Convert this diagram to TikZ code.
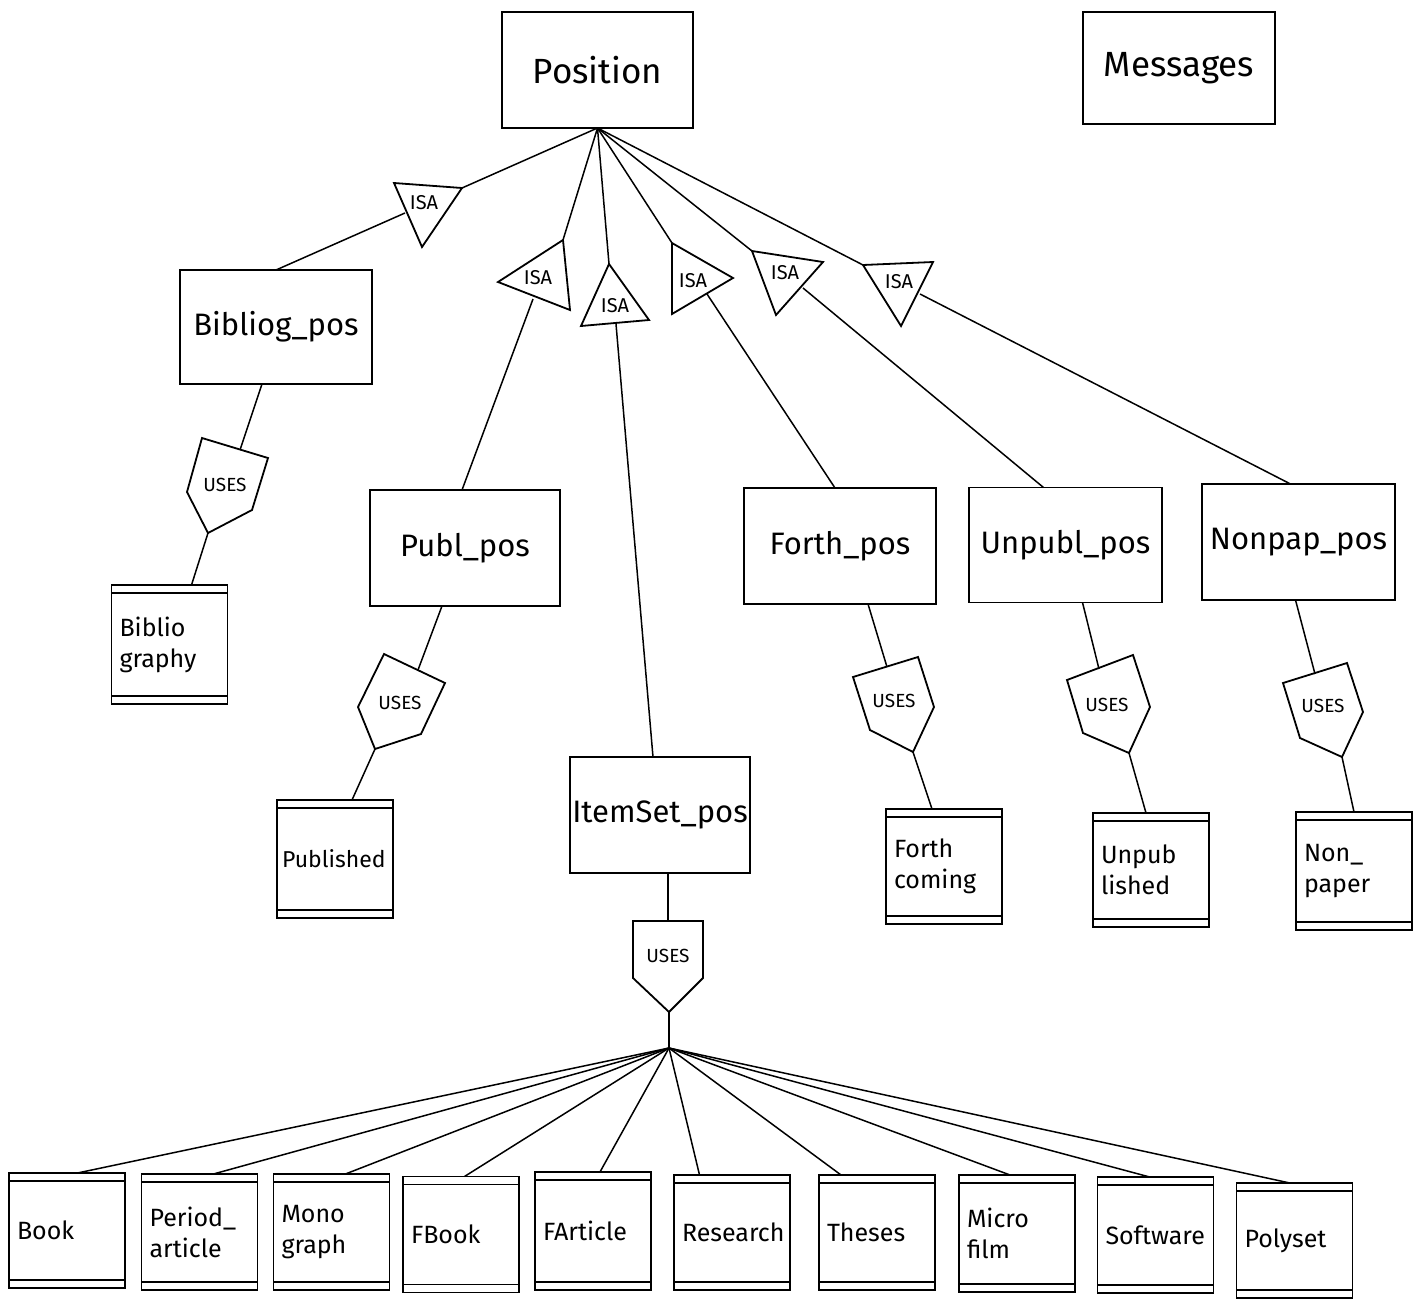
\documentclass[tikz,border=0pt]{standalone}
\usepackage{fontspec}
\setmainfont{Fira Sans}
\usetikzlibrary{calc}

\begin{document}
\begin{tikzpicture}[x=1pt,y=-1pt,
  box/.style={draw, line width=1.8pt, outer sep=0pt, inner sep=2pt,
    font=\fontsize{31}{35}\selectfont},
  bigbox/.style={box, font=\fontsize{35}{40}\selectfont},
  wbox/.style={draw, line width=1.8pt, outer sep=0pt, inner xsep=8pt, inner ysep=2pt,
    text width=100pt, align=left,
    minimum width=116pt, minimum height=116pt,
    font=\fontsize{25}{31}\selectfont},
  shp/.style={line width=1.8pt, line join=miter},
  conn/.style={line width=1.5pt},
  isalbl/.style={font=\fontsize{20}{22}\selectfont, inner sep=0pt},
  useslbl/.style={font=\fontsize{19}{22}\selectfont, inner sep=0pt}]

\useasboundingbox (0,0) rectangle (1422,1299);

% ---------- entity boxes ----------
\node[bigbox, minimum width=191pt, minimum height=116pt] (pos) at (597.5,70) {Position};
\node[bigbox, minimum width=192pt, minimum height=112pt] (msg) at (1179,68)  {Messages};
\node[box, minimum width=192pt, minimum height=114pt] (bib)    at (276,327)   {Bibliog\_pos};
\node[box, minimum width=190pt, minimum height=116pt] (publ)   at (465,548)   {Publ\_pos};
\node[box, minimum width=180pt, minimum height=116pt] (item)   at (660,815)   {ItemSet\_pos};
\node[box, minimum width=192pt, minimum height=116pt] (forth)  at (840,546)   {Forth\_pos};
\node[box, minimum width=193pt, minimum height=115pt] (unpubl) at (1065.5,545) {Unpubl\_pos};
\node[box, minimum width=193pt, minimum height=116pt] (nonpap) at (1298.5,542) {Nonpap\_pos};

% ---------- item sets (double-ruled boxes) ----------
\node[wbox, minimum height=119pt] (biblio) at (169.5,644.5) {Biblio\\graphy};
\node[wbox, minimum height=118pt, inner xsep=5pt, text width=106pt,
      font=\fontsize{23}{28}\selectfont] (pubd) at (335,859) {Published};
\node[wbox, minimum height=115pt] (fcom)   at (944,866.5)   {Forth\\coming};
\node[wbox, minimum height=114pt] (unpd)   at (1151,870)    {Unpub\\lished};
\node[wbox, minimum height=118pt] (nonp)   at (1354,871)    {Non\_\\paper};

\node[wbox, minimum height=115pt] (book)   at (67,1230.5)   {Book};
\node[wbox] (period) at (199.5,1232)  {Period\_\\article};
\node[wbox] (mono)   at (331.5,1232)  {Mono\\graph};
\node[wbox] (fbook)  at (461,1234.5)  {FBook};
\node[wbox, minimum height=118pt] (fart)   at (593,1231)     {FArticle};
\node[wbox, minimum height=115pt] (resr)   at (732,1232.5)   {Research};
\node[wbox, minimum height=115pt] (thes)   at (877,1232.5)   {Theses};
\node[wbox, minimum height=117pt] (micro)  at (1017,1233.5)  {Micro\\film};
\node[wbox] (soft)   at (1155.5,1235) {Software};
\node[wbox, minimum height=115pt] (poly)   at (1294.5,1240.5) {Polyset};

% inner rules of the item-set boxes
\foreach \b in {biblio,pubd,fcom,unpd,nonp,book,period,mono,fbook,fart,resr,thes,micro,soft,poly}{
  \draw[line width=1.4pt] ($(\b.north west)+(0,8)$) -- ($(\b.north east)+(0,8)$);
  \draw[line width=1.4pt] ($(\b.south west)+(0,-8)$) -- ($(\b.south east)+(0,-8)$);
}

% ---------- ISA triangles ----------
\draw[shp] (394,183) -- (462,188) coordinate (i1in) -- (422,247) -- cycle;
\coordinate (i1out) at (405,213);
\node[isalbl] (isa1) at (424,203) {ISA};

\draw[shp] (498,282) -- (563,240) coordinate (i2in) -- (570,310) -- cycle;
\coordinate (i2out) at (533,299);
\node[isalbl] (isa2) at (538,278) {ISA};

\draw[shp] (609,264) coordinate (i3in) -- (649,320) -- (581,326) -- cycle;
\coordinate (i3out) at (616,324);
\node[isalbl] (isa3) at (615,306) {ISA};

\draw[shp] (672,243) coordinate (i4in) -- (733,278) -- (672,314) -- cycle;
\coordinate (i4out) at (707,294);
\node[isalbl] (isa4) at (693,281) {ISA};

\draw[shp] (752,251) coordinate (i5in) -- (823,262) -- (776,315) -- cycle;
\coordinate (i5out) at (803,288);
\node[isalbl] (isa5) at (785,273) {ISA};

\draw[shp] (863,265) coordinate (i6in) -- (933,262) -- (901,326) -- cycle;
\coordinate (i6out) at (920,294);
\node[isalbl] (isa6) at (899,282) {ISA};

% ---------- USES pentagons ----------
\draw[shp] (202,438) -- (268,458) -- (252,510) -- (208,533) coordinate (ubout) -- (187,492) -- cycle;
\coordinate (ubin) at (240,450);
\node[useslbl] (usesb) at (225,485) {USES};

\draw[shp] (384,654) -- (445,683) -- (421,734) -- (375,749) coordinate (upout) -- (358,707) -- cycle;
\coordinate (upin) at (418,670);
\node[useslbl] (usesp) at (400,703) {USES};

\draw[shp] (633,921) -- (703,921) -- (703,978) -- (669,1012) coordinate (uiout) -- (633,978) -- cycle;
\coordinate (uiin) at (668,921);
\node[useslbl] (usesi) at (668,956) {USES};

\draw[shp] (853,677) -- (918,657) -- (934,707) -- (913,752) coordinate (ufout) -- (870,730) -- cycle;
\coordinate (ufin) at (887,667);
\node[useslbl] (usesf) at (894,701) {USES};

\draw[shp] (1067,680) -- (1133,655) -- (1150,707) -- (1129,753) coordinate (uuout) -- (1083,733) -- cycle;
\coordinate (uuin) at (1099,669);
\node[useslbl] (usesu) at (1107,705) {USES};

\draw[shp] (1283,683) -- (1347,663) -- (1363,712) -- (1342,757) coordinate (unout) -- (1300,738) -- cycle;
\coordinate (unin) at (1315,674);
\node[useslbl] (usesn) at (1323,706) {USES};

% ---------- connectors: Position to its specialisations ----------
\draw[conn] (pos.south) -- (i1in);
\draw[conn] (i1out) -- (bib.north);
\draw[conn] (pos.south) -- (i2in);
\draw[conn] (i2out) -- ([xshift=-3pt]publ.north);
\draw[conn] (pos.south) -- (i3in);
\draw[conn] (i3out) -- ([xshift=-7pt]item.north);
\draw[conn] (pos.south) -- (i4in);
\draw[conn] (i4out) -- ([xshift=-5pt]forth.north);
\draw[conn] (pos.south) -- (i5in);
\draw[conn] (i5out) -- ([xshift=-22pt]unpubl.north);
\draw[conn] (pos.south) -- (i6in);
\draw[conn] (i6out) -- ([xshift=-8pt]nonpap.north);

% ---------- connectors: USES links ----------
\draw[conn] ([xshift=-14pt]bib.south) -- (ubin);
\draw[conn] (ubout) -- ([xshift=22pt]biblio.north);
\draw[conn] ([xshift=-23pt]publ.south) -- (upin);
\draw[conn] (upout) -- ([xshift=17pt]pubd.north);
\draw[conn] ([xshift=8pt]item.south) -- (uiin);
\coordinate (hub) at (669,1048);
\draw[conn] (uiout) -- (hub);
\draw[conn] ([xshift=28pt]forth.south) -- (ufin);
\draw[conn] (ufout) -- ([xshift=-12pt]fcom.north);
\draw[conn] ([xshift=17pt]unpubl.south) -- (uuin);
\draw[conn] (uuout) -- ([xshift=-5pt]unpd.north);
\draw[conn] ([xshift=-3pt]nonpap.south) -- (unin);
\draw[conn] (unout) -- (nonp.north);

% ---------- fan from the item-set USES ----------
\foreach \b/\f in {book/0.59,period/0.62,mono/0.62,fbook/0.53,fart/0.56,resr/0.22,thes/0.19,micro/0.44,soft/0.45,poly/0.46}{
  \draw[conn] (hub) -- ($(\b.north west)!\f!(\b.north east)$);
}
\end{tikzpicture}
\end{document}
